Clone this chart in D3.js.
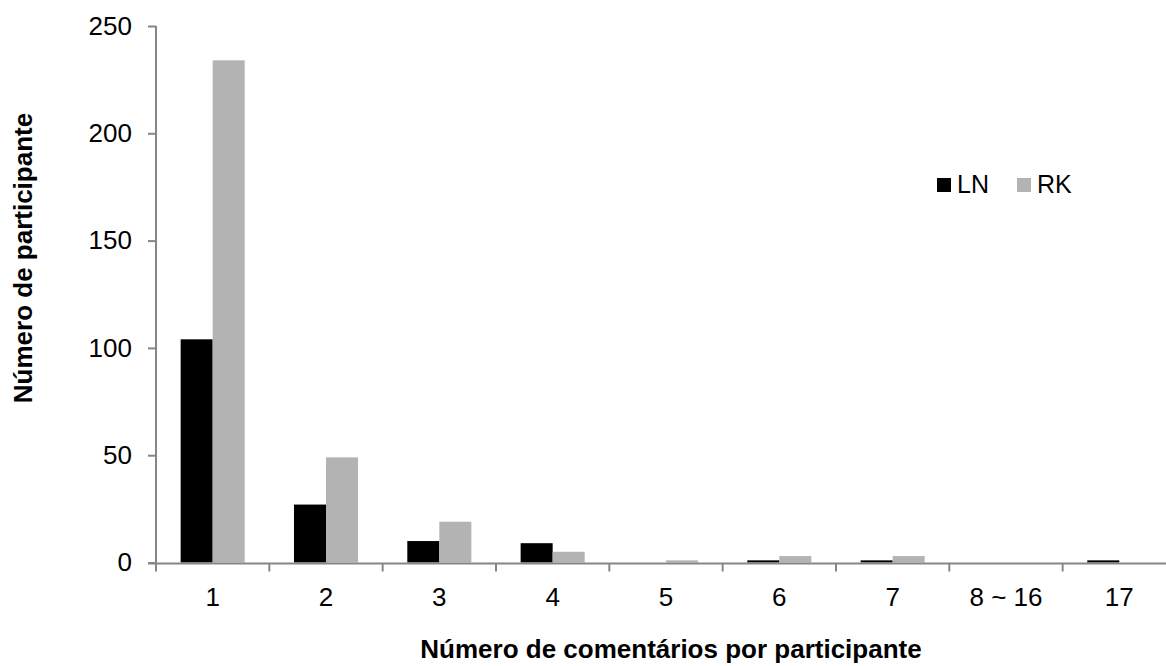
<!DOCTYPE html>
<html>
<head>
<meta charset="utf-8">
<script src="https://cdn.jsdelivr.net/npm/d3@7"></script>
<style>
  body { margin: 0; background: #fff; }
  text { font-family: "Liberation Sans", Arial, sans-serif; }
</style>
</head>
<body>
<div id="chart"></div>
<script>
// data
var categories = ["1", "2", "3", "4", "5", "6", "7", "8 ~ 16", "17"];
var seriesNames = ["LN", "RK"];
var lnValues = [104, 27, 10, 9, 0, 1, 1, 0, 1];
var rkValues = [234, 49, 19, 5, 1, 3, 3, 0, 0];
var yTicks = [0, 50, 100, 150, 200, 250];

var colors = {LN: "#000000", RK: "#b3b3b3"};

// dimensions
var width = 1166, height = 666;
var margin = {top: 26, left: 156, bottom: 104};
var plotBottom = height - margin.bottom + 0.5; // ~562
var catWidth = 113.33;

var svg = d3.select("#chart")
  .append("svg")
    .attr("width", width)
    .attr("height", height);

// scales
var x = d3.scaleBand()
  .domain(categories)
  .range([margin.left, margin.left + catWidth * categories.length])
  .paddingInner(0.435)
  .paddingOuter(0.2175);

var xSub = d3.scaleBand()
  .domain(seriesNames)
  .range([0, x.bandwidth()]);

var y = d3.scaleLinear()
  .domain([0, 250])
  .range([plotBottom, margin.top]);

var rows = categories.map(function(c, i) {
  return {cat: c, LN: lnValues[i], RK: rkValues[i]};
});

// bars
var groups = svg.append("g")
  .selectAll("g")
  .data(rows)
  .enter().append("g")
    .attr("transform", function(d) { return "translate(" + x(d.cat) + ",0)"; });

groups.selectAll("rect")
  .data(function(d) { return seriesNames.map(function(k) { return {key: k, value: d[k]}; }); })
  .enter().append("rect")
    .attr("x", function(d) { return xSub(d.key); })
    .attr("y", function(d) { return y(d.value); })
    .attr("width", xSub.bandwidth())
    .attr("height", function(d) { return y(0) - y(d.value); })
    .attr("fill", function(d) { return colors[d.key]; });

// y axis
var yAxis = svg.append("g")
  .attr("transform", "translate(" + margin.left + ",0)")
  .call(d3.axisLeft(y).tickValues(yTicks).tickSize(8).tickPadding(16));
yAxis.select(".domain").attr("stroke", "#868686").attr("stroke-width", 2)
  .attr("d", "M0," + y(250) + "V" + (plotBottom + 1));
yAxis.selectAll(".tick line").attr("stroke", "#868686").attr("stroke-width", 2);
yAxis.selectAll(".tick text")
  .attr("fill", "#000")
  .style("font-size", "26px")
  .style("font-family", "Liberation Sans, Arial, sans-serif");

// x axis: line plus ticks at category boundaries
var xAxisG = svg.append("g");
xAxisG.append("line")
  .attr("x1", margin.left - 8)
  .attr("x2", width)
  .attr("y1", plotBottom + 1)
  .attr("y2", plotBottom + 1)
  .attr("stroke", "#868686")
  .attr("stroke-width", 2);

var bounds = d3.range(categories.length + 1).map(function(i) { return margin.left + i * catWidth; });
xAxisG.selectAll("line.tk")
  .data(bounds)
  .enter().append("line")
    .attr("class", "tk")
    .attr("x1", function(d) { return d; })
    .attr("x2", function(d) { return d; })
    .attr("y1", plotBottom + 1)
    .attr("y2", plotBottom + 9)
    .attr("stroke", "#868686")
    .attr("stroke-width", 2);

xAxisG.selectAll("text")
  .data(categories)
  .enter().append("text")
    .attr("x", function(d) { return x(d) + x.bandwidth() / 2; })
    .attr("y", 606)
    .attr("text-anchor", "middle")
    .style("font-size", "26px")
    .text(function(d) { return d; });

// axis titles
svg.append("text")
  .attr("x", 671)
  .attr("y", 658)
  .attr("text-anchor", "middle")
  .style("font-size", "26px")
  .style("font-weight", "bold")
  .text("Número de comentários por participante");

svg.append("text")
  .attr("transform", "translate(32,258) rotate(-90)")
  .attr("text-anchor", "middle")
  .style("font-size", "26px")
  .style("font-weight", "bold")
  .text("Número de participante");

// legend
var legend = svg.append("g")
  .selectAll("g")
  .data(seriesNames)
  .enter().append("g")
    .attr("transform", function(d, i) { return "translate(" + (937 + i * 80) + ",178)"; });

legend.append("rect")
  .attr("width", 14)
  .attr("height", 14)
  .attr("fill", function(d) { return colors[d]; });

legend.append("text")
  .attr("x", 20)
  .attr("y", 15)
  .style("font-size", "25px")
  .text(function(d) { return d; });
</script>
</body>
</html>
